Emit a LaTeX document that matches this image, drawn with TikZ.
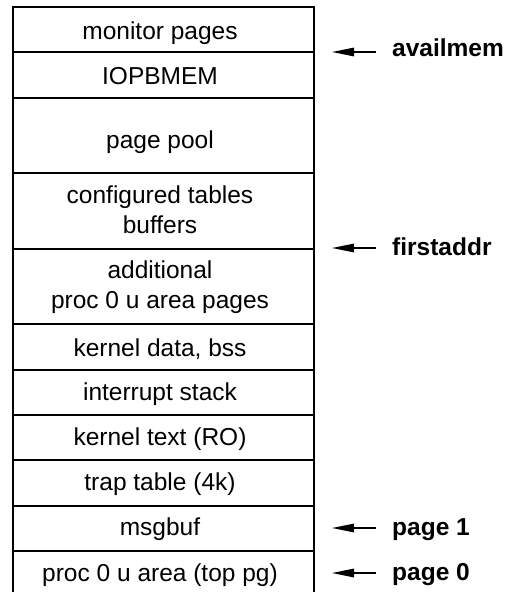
\documentclass[tikz,border=0pt]{standalone}
\usepackage{fontspec}
\setmainfont{Liberation Sans}
\usetikzlibrary{arrows.meta}
\tikzset{
  slot/.style={draw=black, line width=1.6pt, minimum width=301pt, inner sep=0pt, outer sep=0pt},
  txt/.style={anchor=base, inner sep=0pt, align=center,
    font=\fontsize{24.5}{30}\selectfont},
  tag/.style={anchor=base west, inner sep=0pt,
    font=\fontsize{24.5}{30}\selectfont\bfseries},
  pointer/.style={line width=1.5pt, -{Triangle[length=22pt,width=8.5pt]}},
}
\begin{document}
\begin{tikzpicture}[x=1pt,y=-1pt]
\useasboundingbox (0,0) rectangle (508,592);
% memory map, top to bottom
\node[slot, minimum height=45pt] (r1)  at (163.5,29.5)  {};
\node[slot, minimum height=46pt] (r2)  at (163.5,75)    {};
\node[slot, minimum height=75pt] (r3)  at (163.5,135.5) {};
\node[slot, minimum height=76pt] (r4)  at (163.5,211)   {};
\node[slot, minimum height=75pt] (r5)  at (163.5,286.5) {};
\node[slot, minimum height=46pt] (r6)  at (163.5,347)   {};
\node[slot, minimum height=45pt] (r7)  at (163.5,392.5) {};
\node[slot, minimum height=45pt] (r8)  at (163.5,437.5) {};
\node[slot, minimum height=46pt] (r9)  at (163.5,483)   {};
\node[slot, minimum height=45pt] (r10) at (163.5,528.5) {};
\node[slot, minimum height=46pt] (r11) at (163.5,574)   {};
% region names (base = baseline of the last line)
\node[txt] (t1)  at (160,39.3)  {monitor pages};
\node[txt] (t2)  at (160,84.3)  {IOPBMEM};
\node[txt] (t3)  at (160,148)   {page pool};
\node[txt] (t4)  at (160,233)   {configured tables\\buffers};
\node[txt] (t5)  at (160,308)   {additional\\proc 0 u area pages};
\node[txt] (t6)  at (160,356.5) {kernel data, bss};
\node[txt] (t7)  at (160,400.5) {interrupt stack};
\node[txt] (t8)  at (160,445.5) {kernel text (RO)};
\node[txt] (t9)  at (160,490.5) {trap table (4k)};
\node[txt] (t10) at (160,535.5) {msgbuf};
\node[txt] (t11) at (160,581.5) {proc 0 u area (top pg)};
% boundary markers
\coordinate (a1) at (376,52);
\coordinate (b1) at (332,52);
\coordinate (a2) at (376,248);
\coordinate (b2) at (332,248);
\coordinate (a3) at (376,528);
\coordinate (b3) at (332,528);
\coordinate (a4) at (376,573);
\coordinate (b4) at (332,573);
\draw[pointer] (a1) -- (b1);
\draw[pointer] (a2) -- (b2);
\draw[pointer] (a3) -- (b3);
\draw[pointer] (a4) -- (b4);
\node[tag] (l1) at (392,56)  {availmem};
\node[tag] (l2) at (392,255) {firstaddr};
\node[tag] (l3) at (392,535) {page 1};
\node[tag] (l4) at (392,580) {page 0};
\end{tikzpicture}
\end{document}
